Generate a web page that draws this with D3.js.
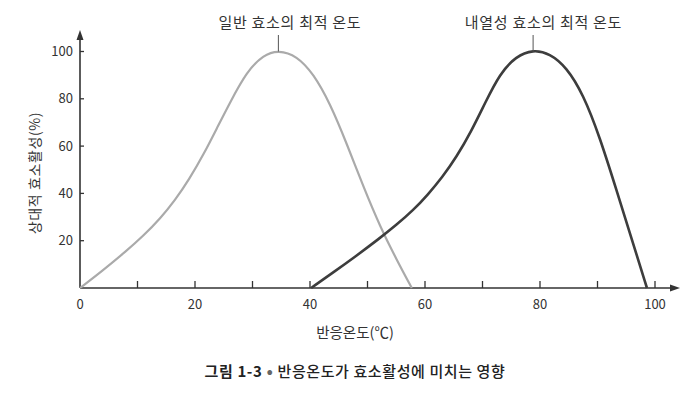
<!DOCTYPE html>
<html>
<head>
<meta charset="utf-8">
<script src="https://cdn.jsdelivr.net/npm/d3@7"></script>
<style>
  body { margin: 0; background: #fff; }
  text { font-family: "Noto Sans CJK KR", "Noto Sans", sans-serif; fill: #333; }
</style>
</head>
<body>
<script>
// 일반 효소 (온도 °C, 상대 활성 %)
const normalTemp = [0, 4, 8, 11, 14, 16.5, 19, 21.5, 24, 26.1, 29, 31.9, 34.5, 37.7, 40.6, 43.5, 46.4, 49.3, 52.2, 55.1, 57.7];
const normalAct  = [0, 7.5, 15.5, 22, 29.5, 37, 46, 56.5, 68.5, 78.5, 91.5, 98.6, 100.6, 98.2, 90.6, 78, 61, 42.7, 25.9, 11.8, 0];

// 내열성 효소
const heatTemp = [40.2, 44, 48, 52, 55, 58, 60.5, 63, 65.5, 68, 70.5, 73, 75.8, 78.8, 81.7, 84.6, 87.5, 90.4, 93.3, 96.2, 98.6];
const heatAct  = [0, 6.5, 13.5, 20.8, 26.6, 33, 39.5, 46.8, 55.5, 66, 78.5, 90.5, 98, 100.8, 99.2, 93.4, 82, 63.8, 41.4, 18.8, 0];

const xTicks = [0, 20, 40, 60, 80, 100];
const xMinorTicks = [10, 30, 50, 70, 90];
const yTicks = [20, 40, 60, 80, 100];

const labels = [
    { text: "일반 효소의 최적 온도", peak: 34.5, at: 36.5 },
    { text: "내열성 효소의 최적 온도", peak: 78.8, at: 80.6 }
];

const width = 698, height = 398;
const svg = d3.select("body").append("svg")
    .attr("width", width)
    .attr("height", height);

const x = d3.scaleLinear().domain([0, 100]).range([80, 655]);
const y = d3.scaleLinear().domain([0, 100]).range([288, 51.5]);

// 축
const axisColor = "#333";
svg.append("line")
    .attr("x1", x(0)).attr("x2", 672)
    .attr("y1", y(0)).attr("y2", y(0))
    .attr("stroke", axisColor).attr("stroke-width", 1.6);
svg.append("path")
    .attr("d", `M680,${y(0)} L670,${y(0) - 3.5} L670,${y(0) + 3.5} Z`)
    .attr("fill", axisColor);

svg.append("line")
    .attr("x1", x(0)).attr("x2", x(0))
    .attr("y1", y(0)).attr("y2", 38)
    .attr("stroke", axisColor).attr("stroke-width", 1.6);
svg.append("path")
    .attr("d", `M${x(0)},30 L${x(0) - 3.5},40 L${x(0) + 3.5},40 Z`)
    .attr("fill", axisColor);

// x 눈금
svg.selectAll(".xtick")
    .data(xTicks.concat(xMinorTicks).filter(d => d > 0))
    .enter().append("line")
    .attr("x1", d => x(d)).attr("x2", d => x(d))
    .attr("y1", y(0)).attr("y2", y(0) - 7)
    .attr("stroke", axisColor).attr("stroke-width", 1.3);

svg.selectAll(".xlabel")
    .data(xTicks)
    .enter().append("text")
    .attr("x", d => x(d))
    .attr("y", 309)
    .attr("text-anchor", "middle")
    .attr("font-size", "13px")
    .text(d => d);

// y 눈금
svg.selectAll(".ytick")
    .data(yTicks)
    .enter().append("line")
    .attr("x1", x(0)).attr("x2", x(0) + 4)
    .attr("y1", d => y(d)).attr("y2", d => y(d))
    .attr("stroke", axisColor).attr("stroke-width", 1.3);

svg.selectAll(".ylabel")
    .data(yTicks)
    .enter().append("text")
    .attr("x", 73)
    .attr("y", d => y(d))
    .attr("dy", "0.35em")
    .attr("text-anchor", "end")
    .attr("font-size", "13px")
    .text(d => d);

// 축 제목
svg.append("text")
    .attr("transform", "translate(40,173) rotate(-90)")
    .attr("text-anchor", "middle")
    .attr("font-size", "14px")
    .attr("letter-spacing", "0.6px")
    .attr("fill", "#333")
    .text("상대적 효소활성(%)");

svg.append("text")
    .attr("x", 355)
    .attr("y", 338)
    .attr("text-anchor", "middle")
    .attr("font-size", "14.5px")
    .text("반응온도(℃)");

// 곡선
const line = d3.line()
    .x(d => x(d[0]))
    .y(d => y(d[1]))
    .curve(d3.curveBasis);

svg.append("path")
    .datum(d3.zip(normalTemp, normalAct))
    .attr("d", line)
    .attr("fill", "none")
    .attr("stroke", "#aaa")
    .attr("stroke-width", 2.2);

svg.append("path")
    .datum(d3.zip(heatTemp, heatAct))
    .attr("d", line)
    .attr("fill", "none")
    .attr("stroke", "#3d3d3d")
    .attr("stroke-width", 2.6);

// 최적 온도 표시
labels.forEach(l => {
    svg.append("line")
        .attr("x1", x(l.peak)).attr("x2", x(l.peak))
        .attr("y1", 35).attr("y2", y(100))
        .attr("stroke", "#555").attr("stroke-width", 1);
    svg.append("text")
        .attr("x", x(l.at))
        .attr("y", 28)
        .attr("text-anchor", "middle")
        .attr("font-size", "15px")
        .attr("letter-spacing", "0.7px")
        .text(l.text);
});

// 그림 캡션
const cap = svg.append("text")
    .attr("x", 355)
    .attr("y", 377)
    .attr("text-anchor", "middle")
    .attr("font-size", "15px")
    .attr("letter-spacing", "0.6px");
cap.append("tspan").attr("font-weight", "bold").attr("fill", "#222").text("그림 1-3 ");
cap.append("tspan").attr("fill", "#666").attr("font-size", "19px").attr("dy", "1").text("•");
cap.append("tspan").attr("font-weight", "500").attr("fill", "#222").attr("dy", "-1").text(" 반응온도가 효소활성에 미치는 영향");
</script>
</body>
</html>
